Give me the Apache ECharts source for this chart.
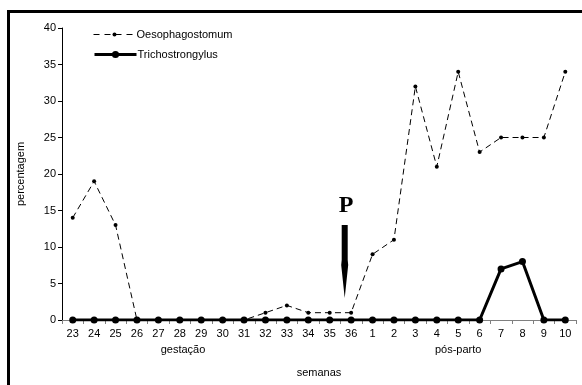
<!DOCTYPE html>
<html>
<head>
<meta charset="utf-8">
<script src="https://cdn.jsdelivr.net/npm/echarts@6/dist/echarts.min.js"></script>
<style>html,body{margin:0;padding:0;background:#fff}#c{width:582px;height:385px}</style>
</head>
<body>
<div id="c"></div>
<script>
var weeks = ['23','24','25','26','27','28','29','30','31','32','33','34','35','36','1','2','3','4','5','6','7','8','9','10'];
var oesophagostomum = [14,19,13,0,0,0,0,0,0,1,2,1,1,1,9,11,32,21,34,23,25,25,25,34];
var trichostrongylus = [0,0,0,0,0,0,0,0,0,0,0,0,0,0,0,0,0,0,0,0,7,8,0,0];
var yTicks = {min:0, max:40, interval:5};

var chart = echarts.init(document.getElementById('c'), null, {renderer:'canvas'});
var font = 'Liberation Sans, Arial, sans-serif';
var legendText = {fontFamily:font, fontSize:11, color:'#000', padding:[0,0,0,-4]};
chart.setOption({
  animation:false,
  backgroundColor:'#fff',
  grid:{left:62, right:6, top:28, bottom:65},
  legend:[
    {left:88, top:24, itemWidth:42, itemHeight:5, textStyle:legendText,
     lineStyle:{width:1, type:[6,5]}, data:['Oesophagostomum']},
    {left:88, top:44, itemWidth:42, itemHeight:9, textStyle:legendText,
     lineStyle:{width:3}, data:['Trichostrongylus']}
  ],
  xAxis:{
    type:'category', data:weeks, boundaryGap:true,
    axisLine:{lineStyle:{color:'#808080', width:1}},
    axisTick:{show:true, length:4, lineStyle:{color:'#808080'}},
    axisLabel:{fontFamily:font, fontSize:11, color:'#000', margin:8},
    name:'semanas', nameLocation:'middle', nameGap:47,
    nameTextStyle:{fontFamily:font, fontSize:11, color:'#000'}
  },
  yAxis:{
    type:'value', min:yTicks.min, max:yTicks.max, interval:yTicks.interval,
    axisLine:{show:true, lineStyle:{color:'#000', width:1}},
    axisTick:{show:true, length:4, lineStyle:{color:'#000'}},
    splitLine:{show:false},
    axisLabel:{fontFamily:font, fontSize:11, color:'#000', margin:6},
    name:'percentagem', nameLocation:'middle', nameGap:36,
    nameTextStyle:{fontFamily:font, fontSize:11, color:'#000'}
  },
  series:[
    {name:'Oesophagostomum', type:'line', data:oesophagostomum, z:2,
     symbol:'circle', symbolSize:4,
     itemStyle:{color:'#000'},
     lineStyle:{color:'#000', width:1, type:[6,4]}},
    {name:'Trichostrongylus', type:'line', data:trichostrongylus, z:3,
     symbol:'circle', symbolSize:7,
     itemStyle:{color:'#000'},
     lineStyle:{color:'#000', width:3}}
  ]
});

function px(idx){ return chart.convertToPixel({xAxisIndex:0}, weeks[idx]); }
var y0 = chart.convertToPixel({yAxisIndex:0}, 0);
var step = px(1) - px(0);
var ax = px(13) - step*0.3;
var gx = px(5) + step*0.15;
var ppx = px(18);
chart.setOption({
  graphic:[
    {type:'rect', shape:{x:8.5, y:11.5, width:600, height:400}, style:{fill:'none', stroke:'#000', lineWidth:3}, z:100},
    {type:'text', x:gx, y:y0+30, style:{text:'gestação', font:'11px '+font, fill:'#000', textAlign:'center', textVerticalAlign:'middle'}},
    {type:'text', x:ppx, y:y0+30, style:{text:'pós-parto', font:'11px '+font, fill:'#000', textAlign:'center', textVerticalAlign:'middle'}},
    {type:'text', x:ax+1.5, y:y0-114, style:{text:'P', font:'bold 24px "Liberation Serif", "Times New Roman", serif', fill:'#000', textAlign:'center', textVerticalAlign:'middle'}},
    {type:'polygon', shape:{points:[[ax-3,y0-95],[ax+3,y0-95],[ax+3,y0-60],[ax+3.5,y0-55],[ax,y0-22],[ax-3.5,y0-55],[ax-3,y0-60]]}, style:{fill:'#000'}}
  ]
});
</script>
</body>
</html>
